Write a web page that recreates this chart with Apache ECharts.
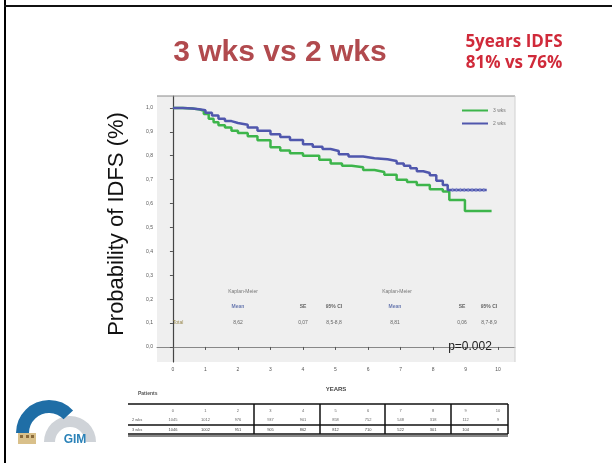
<!DOCTYPE html>
<html><head><meta charset="utf-8">
<script src="https://cdn.jsdelivr.net/npm/echarts@6/dist/echarts.min.js"></script>
<style>html,body{margin:0;padding:0;background:#fff}#c{width:612px;height:463px}</style>
</head><body><div id="c"></div>
<script>
// ---- data ----
const yearTicks = [0,1,2,3,4,5,6,7,8,9,10];
const yTickValues = [0,0.1,0.2,0.3,0.4,0.5,0.6,0.7,0.8,0.9,1.0];
const yTickLabels = ['0,0','0,1','0,2','0,3','0,4','0,5','0,6','0,7','0,8','0,9','1,0'];

const blueName = '2 wks';
const blueT = [0,0.3,0.6,0.8,1.0,1.2,1.4,1.6,1.8,2.0,2.3,2.6,3.0,3.3,3.6,4.0,4.3,4.6,4.85,5.1,5.4,5.85,6.2,6.6,6.88,7.1,7.3,7.5,7.7,7.9,8.1,8.3,8.45,9.65];
const blueV = [1.0,0.998,0.995,0.99,0.98,0.968,0.955,0.945,0.937,0.93,0.918,0.905,0.89,0.878,0.866,0.848,0.838,0.828,0.82,0.806,0.797,0.79,0.785,0.778,0.768,0.758,0.748,0.735,0.728,0.718,0.695,0.678,0.657,0.657];
const blueCensorT = [8.6,8.72,8.84,8.96,9.08,9.2,9.32,9.44,9.56];
const blueCensorV = [0.657,0.657,0.657,0.657,0.657,0.657,0.657,0.657,0.657];

const greenName = '3 wks';
const greenT = [0,0.3,0.6,0.8,0.95,1.1,1.25,1.4,1.6,1.8,2.0,2.3,2.6,3.0,3.3,3.6,4.0,4.5,4.85,5.2,5.5,5.85,6.2,6.5,6.88,7.2,7.5,7.9,8.3,8.5,8.98,9.8];
const greenV = [1.0,0.998,0.994,0.988,0.975,0.955,0.94,0.928,0.918,0.905,0.895,0.882,0.865,0.836,0.822,0.81,0.80,0.783,0.768,0.758,0.752,0.74,0.732,0.72,0.70,0.69,0.678,0.66,0.65,0.615,0.569,0.569];

const riskYears = [0,1,2,3,4,5,6,7,8,9,10];
const riskGreen = [1046,1002,951,905,862,812,710,522,301,104,8];
const riskBlue  = [1045,1012,976,937,901,858,752,548,318,112,9];

const statsHeader = ['Kaplan-Meier','Kaplan-Meier'];
const statsCols = ['Mean','SE','95% CI','Mean','SE','95% CI'];
const statsVals = ['8,62','0,07','8,5-8,8','8,81','0,06','8,7-8,9'];

const pValueText = 'p=0.002';
const titleText = '3 wks vs 2 wks';
const noteLines = ['5years IDFS','81% vs 76%'];
const yTitle = 'Probability of IDFS (%)';
const xTitle = 'YEARS';

// ---- chart ----
const chart = echarts.init(document.getElementById('c'), null, {renderer:'canvas'});
const zip = (a,b) => a.map((v,i)=>[v,b[i]]);
const BLUE = '#5057ad', GREEN = '#3db54b';

chart.setOption({
  animation:false,
  backgroundColor:'#ffffff',
  grid:{left:157, right:97, top:96, bottom:101, show:true, backgroundColor:'#efefef', borderWidth:0},
  legend:{
    orient:'vertical', left:457, top:103, itemWidth:26, itemHeight:2, itemGap:8,
    icon:'rect', textStyle:{fontSize:5, color:'#777'},
    data:[greenName, blueName]
  },
  xAxis:{
    type:'value', min:-0.49, max:10.52,
    axisLine:{show:true, lineStyle:{color:'#888', width:1}}, splitLine:{show:false},
    axisTick:{show:true, length:3, customValues:yearTicks, lineStyle:{color:'#555'}},
    axisLabel:{fontSize:5, color:'#555', margin:5, customValues:yearTicks, formatter:v=>String(v)},
    name:xTitle, nameLocation:'middle', nameGap:24,
    nameTextStyle:{fontSize:6, fontWeight:'bold', color:'#444'}
  },
  yAxis:{
    type:'value', min:-0.063, max:1.05,
    axisLine:{show:true, lineStyle:{color:'#444', width:1.2}}, splitLine:{show:false},
    axisTick:{show:true, length:3, customValues:yTickValues, lineStyle:{color:'#555'}},
    axisLabel:{fontSize:5, color:'#555', margin:4, customValues:yTickValues,
      formatter:v=>yTickLabels[Math.round(v*10)]}
  },
  series:[
    {name:greenName, type:'line', step:'end', showSymbol:false, symbol:'none',
     data:zip(greenT, greenV), lineStyle:{color:GREEN, width:2.5}, itemStyle:{color:GREEN}, z:3},
    {name:blueName, type:'line', step:'end', showSymbol:false, symbol:'none',
     data:zip(blueT, blueV), lineStyle:{color:BLUE, width:2.5}, itemStyle:{color:BLUE}, z:4},
    {name:blueName+' censored', type:'scatter', symbol:'rect', symbolSize:[1.5,4],
     data:zip(blueCensorT, blueCensorV), itemStyle:{color:'#8890d0'}, z:5}
  ]
});

const px = t => chart.convertToPixel({xAxisIndex:0}, t);

const els = [];
// slide frame
els.push({type:'line', shape:{x1:5, y1:0, x2:5, y2:463}, style:{stroke:'#000', lineWidth:2}, z:50});
els.push({type:'line', shape:{x1:4, y1:6, x2:612, y2:6}, style:{stroke:'#111', lineWidth:2}, z:50});
// plot frame top/right
els.push({type:'line', shape:{x1:157, y1:96, x2:515, y2:96}, style:{stroke:'#8a8a8a', lineWidth:1}, z:10});
els.push({type:'line', shape:{x1:515, y1:96, x2:515, y2:362}, style:{stroke:'#d0d0d0', lineWidth:1}, z:10});

// titles
els.push({type:'text', x:280, y:53, style:{text:titleText, fontFamily:'Liberation Sans', fontWeight:'bold', fontSize:30, fill:'#b14a4e', textAlign:'center', textVerticalAlign:'middle'}, z:20});
els.push({type:'text', x:514, y:42, style:{text:noteLines[0], fontFamily:'Open Sans', fontWeight:'bold', fontSize:17, fill:'#d02a3a', textAlign:'center', textVerticalAlign:'middle'}, z:20});
els.push({type:'text', x:514, y:63, style:{text:noteLines[1], fontFamily:'Open Sans', fontWeight:'bold', fontSize:17, fill:'#d02a3a', textAlign:'center', textVerticalAlign:'middle'}, z:20});
els.push({type:'text', x:117, y:224, rotation:Math.PI/2, style:{text:yTitle, fontFamily:'Liberation Sans', fontSize:22, fill:'#111', textAlign:'center', textVerticalAlign:'middle'}, z:20});

// p value
els.push({type:'text', x:470, y:347, style:{text:pValueText, fontFamily:'Liberation Sans', fontSize:12, fill:'#222', textAlign:'center', textVerticalAlign:'middle'}, z:20});

// stats box inside plot
const statX = [238,303,334,395,462,489];
els.push({type:'text', x:243, y:292, style:{text:statsHeader[0], fontSize:5, fill:'#777', textAlign:'center', textVerticalAlign:'middle'}, z:20});
els.push({type:'text', x:397, y:292, style:{text:statsHeader[1], fontSize:5, fill:'#777', textAlign:'center', textVerticalAlign:'middle'}, z:20});
statsCols.forEach((s,i)=>els.push({type:'text', x:statX[i], y:307, style:{text:s, fontSize:5, fontWeight:'bold', fill:(s==='Mean'?'#6a7ab0':'#666'), textAlign:'center', textVerticalAlign:'middle'}, z:20}));
els.push({type:'text', x:178, y:323, style:{text:'Total', fontSize:5, fill:'#9a8a50', textAlign:'center', textVerticalAlign:'middle'}, z:20});
statsVals.forEach((s,i)=>els.push({type:'text', x:statX[i], y:323, style:{text:s, fontSize:5, fill:'#666', textAlign:'center', textVerticalAlign:'middle'}, z:20}));

// risk table
const tL = 128, tR = 508, tTop = 404, tMid = 425, tBot = 434;
els.push({type:'text', x:138, y:394, style:{text:'Patients', fontSize:5, fontWeight:'bold', fill:'#555', textAlign:'left', textVerticalAlign:'middle'}, z:20});
els.push({type:'line', shape:{x1:tL, y1:tTop, x2:tR, y2:tTop}, style:{stroke:'#111', lineWidth:1.5}, z:20});
els.push({type:'line', shape:{x1:tL, y1:tMid, x2:tR, y2:tMid}, style:{stroke:'#111', lineWidth:1.5}, z:20});
els.push({type:'line', shape:{x1:tL, y1:tBot, x2:tR, y2:tBot}, style:{stroke:'#111', lineWidth:1.5}, z:20});
els.push({type:'line', shape:{x1:tL, y1:tBot+2, x2:tR, y2:tBot+2}, style:{stroke:'#111', lineWidth:1}, z:20});
[254,320,385,451,tR].forEach(x=>els.push({type:'line', shape:{x1:x, y1:tTop, x2:x, y2:tBot}, style:{stroke:'#111', lineWidth:1.5}, z:20}));
els.push({type:'text', x:132, y:420, style:{text:blueName, fontSize:4, fill:'#555', textVerticalAlign:'middle'}, z:20});
els.push({type:'text', x:132, y:430, style:{text:greenName, fontSize:4, fill:'#555', textVerticalAlign:'middle'}, z:20});
riskYears.forEach((t,i)=>{
  const x = px(t);
  els.push({type:'text', x:x, y:411, style:{text:String(t), fontSize:4, fill:'#666', textAlign:'center', textVerticalAlign:'middle'}, z:20});
  els.push({type:'text', x:x, y:420, style:{text:String(riskBlue[i]), fontSize:4, fill:'#666', textAlign:'center', textVerticalAlign:'middle'}, z:20});
  els.push({type:'text', x:x, y:430, style:{text:String(riskGreen[i]), fontSize:4, fill:'#444', textAlign:'center', textVerticalAlign:'middle'}, z:20});
});

// GIM logo
els.push({type:'sector', shape:{cx:70, cy:442, r:26, r0:15, startAngle:Math.PI, endAngle:2*Math.PI, clockwise:true}, style:{fill:'#cfd3d8'}, z:20});
els.push({type:'sector', shape:{cx:49, cy:433, r:33, r0:20, startAngle:Math.PI, endAngle:1.76*Math.PI, clockwise:true}, style:{fill:'#1f6ea6'}, z:21});
els.push({type:'rect', shape:{x:18, y:433, width:18, height:11}, style:{fill:'#d9c08a'}, z:22});
els.push({type:'rect', shape:{x:20, y:435, width:3, height:3}, style:{fill:'#8a6a3a'}, z:23});
els.push({type:'rect', shape:{x:26, y:435, width:3, height:3}, style:{fill:'#8a6a3a'}, z:23});
els.push({type:'rect', shape:{x:31, y:435, width:3, height:3}, style:{fill:'#8a6a3a'}, z:23});
els.push({type:'text', x:75, y:440, style:{text:'GIM', fontFamily:'Liberation Sans', fontWeight:'bold', fontSize:12, fill:'#2a82b8', textAlign:'center', textVerticalAlign:'middle'}, z:23});

chart.setOption({graphic:{elements:els}});
</script>
</body></html>
